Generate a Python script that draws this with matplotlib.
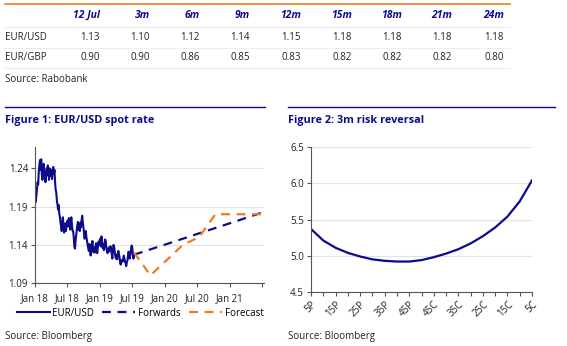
import matplotlib
matplotlib.use("Agg")
import matplotlib.pyplot as plt
from matplotlib.lines import Line2D
from matplotlib.ticker import FormatStrFormatter
import pandas as pd

plt.rcParams['font.family'] = ['Open Sans', 'DejaVu Sans']

# forecast table
horizons = ['12 Jul', '3m', '6m', '9m', '12m', '15m', '18m', '21m', '24m']
eurusd_fc = [1.13, 1.10, 1.12, 1.14, 1.15, 1.18, 1.18, 1.18, 1.18]
eurgbp_fc = [0.90, 0.90, 0.86, 0.85, 0.83, 0.82, 0.82, 0.82, 0.80]
horizon_dates = pd.to_datetime(['2019-07-12', '2019-10-12', '2020-01-12', '2020-04-12',
                                '2020-07-12', '2020-10-12', '2021-01-12', '2021-04-12',
                                '2021-07-12'])

# EUR/USD spot, roughly twice a week, Jan 2018 - 12 Jul 2019
spot = [
    1.201, 1.196, 1.205, 1.214, 1.222, 1.219, 1.236, 1.245, 1.251,
    1.238, 1.252, 1.232, 1.225, 1.240, 1.246, 1.229, 1.235, 1.222,
    1.228, 1.240, 1.231, 1.244, 1.236, 1.225, 1.240, 1.233, 1.230,
    1.238, 1.226, 1.236, 1.242, 1.233, 1.238, 1.222, 1.212, 1.208,
    1.198, 1.193, 1.186, 1.192, 1.180, 1.177, 1.169, 1.164, 1.158,
    1.170, 1.176, 1.166, 1.156, 1.162, 1.168, 1.158, 1.165, 1.170,
    1.172, 1.164, 1.175, 1.168, 1.160, 1.170, 1.176, 1.166, 1.158,
    1.158, 1.150, 1.138, 1.135, 1.145, 1.152, 1.160, 1.166, 1.170,
    1.160, 1.164, 1.158, 1.169, 1.163, 1.172, 1.178, 1.169, 1.163,
    1.155, 1.148, 1.154, 1.158, 1.150, 1.145, 1.140, 1.136, 1.132,
    1.141, 1.134, 1.126, 1.132, 1.140, 1.145, 1.135, 1.130, 1.136,
    1.130, 1.138, 1.142, 1.134, 1.129, 1.136, 1.144, 1.140, 1.146,
    1.148, 1.138, 1.151, 1.143, 1.136, 1.141, 1.133, 1.140, 1.147,
    1.145, 1.137, 1.132, 1.129, 1.135, 1.131, 1.137, 1.134, 1.138,
    1.132, 1.128, 1.122, 1.133, 1.140, 1.137, 1.131, 1.125, 1.122,
    1.127, 1.121, 1.128, 1.132, 1.127, 1.124, 1.116, 1.114, 1.119,
    1.120, 1.118, 1.122, 1.126, 1.122, 1.118, 1.116, 1.112, 1.117,
    1.119, 1.126, 1.131, 1.126, 1.122, 1.128, 1.135, 1.139, 1.137,
    1.128, 1.122, 1.127,
]
spot_dates = pd.date_range('2018-01-02', '2019-07-12', periods=len(spot))

forwards = [1.127, 1.134, 1.141, 1.148, 1.155, 1.162, 1.169, 1.176, 1.183]

# 3m risk reversal smile
deltas = ['5P', '10P', '15P', '20P', '25P', '30P', '35P', '40P', '45P', '50',
          '45C', '40C', '35C', '30C', '25C', '20C', '15C', '10C', '5C']
vols = [5.37, 5.21, 5.11, 5.04, 4.99, 4.95, 4.93, 4.92, 4.92, 4.94,
        4.98, 5.03, 5.09, 5.17, 5.27, 5.39, 5.54, 5.75, 6.04]

NAVY = '#0B0B8C'
ORANGE = '#F47A20'
TEXT = '#222222'
GRID = '#E3E3E3'
W, H = 567, 346


def fx(px):
    return px / W


def fy(py):
    return 1 - py / H


def hline(fig, x0, x1, y, color, lw):
    fig.add_artist(Line2D([fx(x0), fx(x1)], [fy(y), fy(y)], color=color, lw=lw))


fig = plt.figure(figsize=(W / 100, H / 100), dpi=100)

# table
hline(fig, 5, 510, 4, ORANGE, 1.2)
for y in (27, 48, 68):
    hline(fig, 5, 510, y, '#EDEDED', 0.8)
col_right = [100, 150, 200, 250, 301, 352, 402, 452, 504]
for x, h, u, g in zip(col_right, horizons, eurusd_fc, eurgbp_fc):
    fig.text(fx(x), fy(15.5), h, ha='right', va='center', fontsize=7.5,
             fontweight='bold', fontstyle='italic', color=NAVY)
    fig.text(fx(x), fy(37), f'{u:.2f}', ha='right', va='center', fontsize=7, color=TEXT)
    fig.text(fx(x), fy(57), f'{g:.2f}', ha='right', va='center', fontsize=7, color=TEXT)
fig.text(fx(5), fy(37), 'EUR/USD', ha='left', va='center', fontsize=7, color=TEXT)
fig.text(fx(5), fy(57), 'EUR/GBP', ha='left', va='center', fontsize=7, color=TEXT)
fig.text(fx(5), fy(80), 'Source: Rabobank', ha='left', va='center', fontsize=7, color=TEXT)

# panel headers
hline(fig, 5, 265, 107, NAVY, 1.0)
hline(fig, 288, 555, 107, NAVY, 1.0)
fig.text(fx(5), fy(120.5), 'Figure 1: EUR/USD spot rate', ha='left', va='center',
         fontsize=7.8, fontweight='bold', color=NAVY)
fig.text(fx(288), fy(120.5), 'Figure 2: 3m risk reversal', ha='left', va='center',
         fontsize=7.8, fontweight='bold', color=NAVY)
fig.text(fx(5), fy(337), 'Source: Bloomberg', ha='left', va='center', fontsize=7, color=TEXT)
fig.text(fx(288), fy(337), 'Source: Bloomberg', ha='left', va='center', fontsize=7, color=TEXT)


def style_axes(ax):
    for s in ('top', 'right'):
        ax.spines[s].set_visible(False)
    for s in ('left', 'bottom'):
        ax.spines[s].set_color('#555555')
        ax.spines[s].set_linewidth(0.8)
    ax.tick_params(axis='both', labelsize=7, colors='#555555', labelcolor=TEXT,
                   length=3, width=0.8, pad=2)
    ax.grid(axis='y', color=GRID, lw=0.9)
    ax.set_axisbelow(True)


# Figure 1
ax1 = fig.add_axes([fx(35), fy(283), fx(264) - fx(35), (283 - 147) / H])
style_axes(ax1)
ax1.plot(spot_dates, spot, color=NAVY, lw=1.5, label='EUR/USD')
ax1.plot(horizon_dates, forwards, color=NAVY, lw=1.6, dashes=(4, 3), label='Forwards')
ax1.plot(horizon_dates, eurusd_fc, color=ORANGE, lw=1.6, dashes=(4, 3), label='Forecast')
ax1.set_ylim(1.09, 1.268)
ax1.set_yticks([1.09, 1.14, 1.19, 1.24])
ax1.yaxis.set_major_formatter(FormatStrFormatter('%.2f'))
ax1.set_xlim(pd.Timestamp('2018-01-01'), pd.Timestamp('2021-07-12'))
xt = pd.to_datetime(['2018-01-01', '2018-07-01', '2019-01-01', '2019-07-01',
                     '2020-01-01', '2020-07-01', '2021-01-01', '2021-07-01'])
ax1.set_xticks(xt)
ax1.set_xticklabels(['Jan 18', 'Jul 18', 'Jan 19', 'Jul 19', 'Jan 20', 'Jul 20', 'Jan 21', ''])
ax1.tick_params(axis='x', pad=4)
ax1.legend(loc='center', bbox_to_anchor=(fx(140), fy(313)), bbox_transform=fig.transFigure,
           ncol=3, frameon=False, fontsize=7, handlelength=3.4, handletextpad=0.3,
           columnspacing=0.8, borderpad=0)

# Figure 2
ax2 = fig.add_axes([fx(311), fy(292), fx(532) - fx(311), (292 - 147) / H])
style_axes(ax2)
xs = range(len(deltas))
ax2.plot(xs, vols, color=NAVY, lw=1.6)
ax2.set_ylim(4.5, 6.5)
ax2.set_yticks([4.5, 5.0, 5.5, 6.0, 6.5])
ax2.yaxis.set_major_formatter(FormatStrFormatter('%.1f'))
ax2.set_xlim(0, len(deltas) - 1)
ax2.set_xticks(list(xs))
ax2.set_xticklabels([d if i % 2 == 0 else '' for i, d in enumerate(deltas)],
                    rotation=45, ha='right', rotation_mode='anchor')

fig.savefig('out.png', dpi=100)
